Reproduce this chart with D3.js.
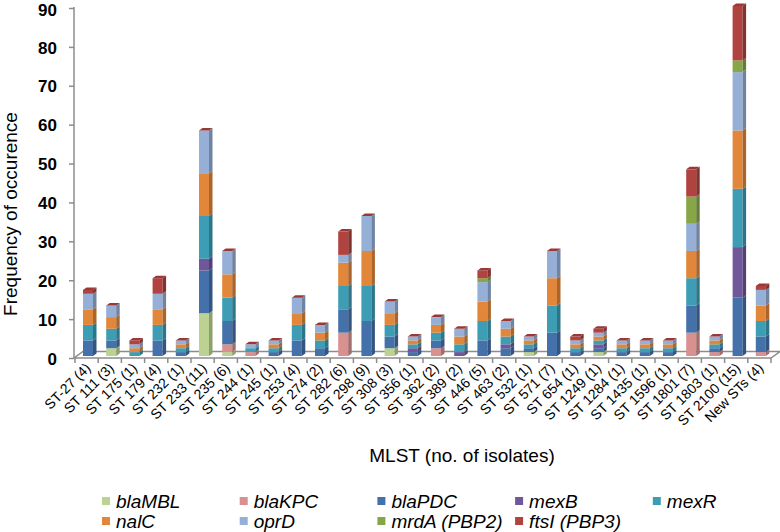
<!DOCTYPE html>
<html>
<head>
<meta charset="utf-8">
<script src="https://cdn.jsdelivr.net/npm/d3@7"></script>
<style>
  body { margin: 0; background: #fff; }
  text { font-family: "Liberation Sans", Arial, sans-serif; }
</style>
</head>
<body>
<div class="chart"></div>
<script>

var categories = ["ST-27 (4)", "ST 111 (3)", "ST 175 (1)", "ST 179 (4)", "ST 232 (1)", "ST 233 (11)",
  "ST 235 (6)", "ST 244 (1)", "ST 245 (1)", "ST 253 (4)", "ST 274 (2)", "ST 282 (6)", "ST 298 (9)",
  "ST 308 (3)", "ST 356 (1)", "ST 362 (2)", "ST 389 (2)", "ST 446 (5)", "ST 463 (2)", "ST 532 (1)",
  "ST 571 (7)", "ST 654 (1)", "ST 1249 (1)", "ST 1284 (1)", "ST 1435 (1)", "ST 1596 (1)",
  "ST 1801 (7)", "ST 1803 (1)", "ST 2100 (15)", "New STs (4)"];

var blaMBL = [0, 2, 0, 0, 0, 11, 1, 0, 0, 0, 0, 0, 0, 2, 0, 0, 0, 0, 0, 1, 0, 0, 1, 0, 0, 0, 0, 0, 0, 0];
var blaKPC = [0, 0, 0, 0, 0, 0, 2, 1, 0, 0, 0, 6, 0, 0, 0, 2, 0, 0, 0, 0, 0, 0, 0, 0, 0, 0, 6, 1, 0, 1];
var blaPDC = [4, 2, 0, 4, 1, 11, 6, 0, 1, 4, 2, 6, 9, 3, 1, 2, 0, 4, 2, 1, 6, 1, 1, 1, 1, 1, 7, 1, 15, 4];
var mexB   = [0, 0, 0, 0, 0, 3, 0, 0, 0, 0, 0, 0, 0, 0, 1, 0, 1, 0, 1, 0, 0, 0, 1, 0, 0, 0, 0, 0, 13, 0];
var mexR   = [4, 3, 1, 4, 1, 11, 6, 1, 1, 4, 2, 6, 9, 3, 1, 2, 2, 5, 2, 1, 7, 1, 1, 1, 1, 1, 7, 1, 15, 4];
var nalC   = [4, 3, 1, 4, 1, 11, 6, 0, 1, 3, 2, 6, 9, 3, 1, 2, 2, 5, 2, 1, 7, 1, 1, 1, 1, 1, 7, 1, 15, 4];
var oprD   = [4, 3, 1, 4, 1, 11, 6, 1, 1, 4, 2, 2, 9, 3, 1, 2, 2, 5, 2, 1, 7, 1, 1, 1, 1, 1, 7, 1, 15, 4];
var mrdA   = [0, 0, 0, 0, 0, 0, 0, 0, 0, 0, 0, 0, 0, 0, 0, 0, 0, 1, 0, 0, 0, 0, 0, 0, 0, 0, 7, 0, 3, 0];
var ftsI   = [1, 0, 1, 4, 0, 0, 0, 0, 0, 0, 0, 6, 0, 0, 0, 0, 0, 2, 0, 0, 0, 1, 1, 0, 0, 0, 7, 0, 14, 1];

var seriesNames = ["blaMBL", "blaKPC", "blaPDC", "mexB", "mexR", "nalC", "oprD", "mrdA (PBP2)", "ftsI (PBP3)"];
var seriesValues = [blaMBL, blaKPC, blaPDC, mexB, mexR, nalC, oprD, mrdA, ftsI];
var colors = ["#bcd293", "#d8918f", "#4571aa", "#70579a", "#3c9db4", "#e2863a", "#95afd7", "#86a648", "#b0423f"];

var yTicks = [0, 10, 20, 30, 40, 50, 60, 70, 80, 90];

// rows for d3.stack
var rows = categories.map(function(c, i) {
  var r = { cat: c };
  seriesNames.forEach(function(s, j) { r[s] = seriesValues[j][i]; });
  return r;
});
var stacked = d3.stack().keys(seriesNames)(rows);

var svg = d3.select(".chart").append("svg")
    .attr("width", 780)
    .attr("height", 532);

var x = d3.scaleBand().domain(categories).range([75, 771]);
var y = d3.scaleLinear().domain([0, 90]).range([356, 6]);
var yWall = y.copy().range([358, 8]);

var dx = 3.5, dy = -2.5, barW = 10, barOff = 8;
var axisColor = "#8c8c8c";

// floor
var floor = svg.append("g").attr("stroke", axisColor).attr("stroke-width", 1.5).attr("fill", "none");
floor.append("path").attr("d", "M74,358L771,358L780,351.5L83,351.5Z");

// y axis
var yAxis = svg.append("g")
    .attr("transform", "translate(74,0)")
    .call(d3.axisLeft(yWall).tickValues(yTicks).tickSize(5).tickPadding(12));
yAxis.select(".domain").attr("stroke", axisColor).attr("stroke-width", 1.5).attr("d", "M0,7V358");
yAxis.selectAll(".tick line").attr("stroke", axisColor).attr("stroke-width", 1.5);
yAxis.selectAll(".tick text")
    .attr("font-size", 17)
    .attr("font-weight", "bold")
    .attr("dy", "0.36em")
    .attr("fill", "#000")
    .style("font-family", "'Liberation Sans', Arial, sans-serif");
yAxis.selectAll(".tick text").filter(function(d) { return d === 90; }).attr("dy", "0.42em");

// x ticks
svg.append("g").selectAll("line")
    .data(categories.concat(["end"]))
    .enter().append("line")
    .attr("x1", function(d, i) { return 75 + i * x.step(); })
    .attr("x2", function(d, i) { return 75 + i * x.step(); })
    .attr("y1", 358)
    .attr("y2", 363)
    .attr("stroke", axisColor)
    .attr("stroke-width", 1.5);

// 3d bars
var bars = svg.append("g");
stacked.forEach(function(layer, j) {
  var col = colors[j];
  var g = bars.append("g");
  g.selectAll("rect")
      .data(layer)
      .enter().append("rect")
      .attr("x", function(d) { return x(d.data.cat) + barOff; })
      .attr("y", function(d) { return y(d[1]); })
      .attr("width", barW)
      .attr("height", function(d) { return y(d[0]) - y(d[1]); })
      .attr("fill", col);
  g.selectAll("path")
      .data(layer)
      .enter().append("path")
      .attr("d", function(d) {
        var x0 = x(d.data.cat) + barOff + barW;
        return "M" + x0 + "," + y(d[0]) + "L" + (x0 + dx) + "," + (y(d[0]) + dy) +
          "L" + (x0 + dx) + "," + (y(d[1]) + dy) + "L" + x0 + "," + y(d[1]) + "Z";
      })
      .attr("fill", d3.color(col).darker(0.8));
});

// top faces take the colour of the last series
var topLayer = stacked[stacked.length - 1];
bars.append("g").selectAll("path")
    .data(topLayer)
    .enter().append("path")
    .attr("d", function(d) {
      var x0 = x(d.data.cat) + barOff, yt = y(d[1]);
      return "M" + x0 + "," + yt + "L" + (x0 + barW) + "," + yt + "L" + (x0 + barW + dx) + "," + (yt + dy) +
        "L" + (x0 + dx) + "," + (yt + dy) + "Z";
    })
    .attr("fill", d3.color(colors[colors.length - 1]).darker(0.4));

// x labels
svg.append("g").selectAll("text")
    .data(categories)
    .enter().append("text")
    .attr("transform", function(d) {
      return "translate(" + (x(d) + x.bandwidth() / 2 + 5) + ",369) rotate(-45)";
    })
    .attr("text-anchor", "end")
    .attr("font-size", 14)
    .attr("fill", "#000")
    .text(function(d) { return d; });

// axis titles
svg.append("text")
    .attr("transform", "translate(17,214) rotate(-90)")
    .attr("text-anchor", "middle")
    .attr("font-size", 19)
    .text("Frequency of occurence");

svg.append("text")
    .attr("x", 462)
    .attr("y", 462)
    .attr("text-anchor", "middle")
    .attr("font-size", 19)
    .text("MLST (no. of isolates)");

// legend
var legend = svg.append("g").selectAll("g")
    .data(seriesNames)
    .enter().append("g")
    .attr("transform", function(d, i) {
      return "translate(" + (102 + (i % 5) * 137.7) + "," + (i < 5 ? 501 : 521) + ")";
    });
legend.append("rect")
    .attr("x", 0)
    .attr("y", -4)
    .attr("width", 8)
    .attr("height", 8)
    .attr("fill", function(d, i) { return colors[i]; });
legend.append("text")
    .attr("x", 14)
    .attr("y", 0)
    .attr("dy", "0.35em")
    .attr("font-size", 19)
    .attr("font-style", "italic")
    .text(function(d) { return d; });

</script>
</body>
</html>
